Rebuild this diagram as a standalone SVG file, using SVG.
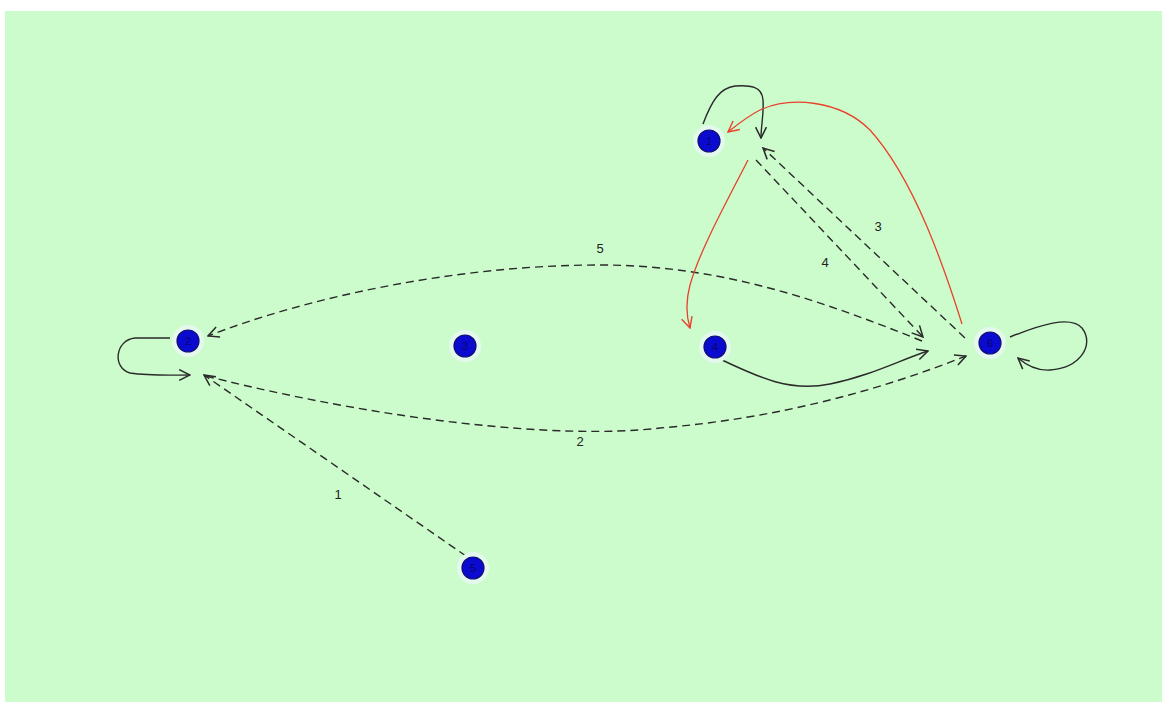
<svg xmlns="http://www.w3.org/2000/svg" width="1167" height="702" viewBox="0 0 1167 702">
  <style>
    .edge { fill: none; stroke: #2a2a2a; stroke-width: 1.4; }
    .dash { stroke-dasharray: 8 5; }
    .red { fill: none; stroke: #e8412c; stroke-width: 1.3; }
    .node circle.halo { fill: #e4f8ee; }
    .node circle.dot { fill: #0a0ad0; stroke: #101070; stroke-width: 1.2; }
    .node text { font-family: "Liberation Sans", Arial, sans-serif; font-size: 11px; fill: #08086a; text-anchor: middle; }
    .lbl { font-family: "Liberation Sans", Arial, sans-serif; font-size: 13px; fill: #222; text-anchor: middle; }
  </style>
  <defs>
    <marker id="arr" viewBox="0 0 12 12" refX="11" refY="6" markerWidth="13" markerHeight="13" markerUnits="userSpaceOnUse" orient="auto">
      <path d="M1,1 L11,6 L1,11" fill="none" stroke="#2a2a2a" stroke-width="1.4"/>
    </marker>
    <marker id="arrRed" viewBox="0 0 12 12" refX="11" refY="6" markerWidth="13" markerHeight="13" markerUnits="userSpaceOnUse" orient="auto">
      <path d="M1,1 L11,6 L1,11" fill="none" stroke="#e8412c" stroke-width="1.3"/>
    </marker>
  </defs>

  <rect x="0" y="0" width="1167" height="702" fill="#ffffff"/>
  <rect x="5" y="11" width="1157" height="691" fill="#ccfccc"/>

  <g id="connectors">
    <!-- 1 -->
    <path class="edge dash" d="M466,556 L204,375" marker-end="url(#arr)"/>
    <!-- 2 -->
    <path class="edge dash" d="M206,376 C380,420 560,440 660,428 C780,418 880,390 966,356" marker-end="url(#arr)"/>
    <!-- 3 -->
    <path class="edge dash" d="M965,338 L763,148" marker-end="url(#arr)"/>
    <!-- 4 -->
    <path class="edge dash" d="M756,160 L923,337" marker-end="url(#arr)"/>
    <!-- 5 -->
    <path class="edge dash" d="M922,341 C820,300 720,265 600,265 C450,265 300,300 208,336" marker-end="url(#arr)"/>
    <!-- solid curve to right node -->
    <path class="edge" d="M722,360 C760,378 790,392 830,384 C870,376 900,360 928,351" marker-end="url(#arr)"/>
    <!-- loops -->
    <path class="edge" d="M1010,337 C1040,325 1070,315 1082,328 C1095,345 1080,368 1050,370 C1035,371 1025,364 1018,358" marker-end="url(#arr)"/>
    <path class="edge" d="M170,338 L135,338 C115,340 112,368 130,373 C150,376 170,375 190,375" marker-end="url(#arr)"/>
    <path class="edge" d="M703,124 C712,100 720,88 735,86 C750,85 762,86 763,100 C764,115 761,125 761,138" marker-end="url(#arr)"/>
    <!-- red -->
    <path class="red" d="M962,324 C945,270 915,180 870,130 C840,100 790,96 760,110 C748,116 738,124 728,132" marker-end="url(#arrRed)"/>
    <path class="red" d="M748,160 C725,205 700,250 690,285 C686,300 686,315 690,328" marker-end="url(#arrRed)"/>
  </g>

  <g id="edge-labels">
    <text class="lbl" x="338" y="499">1</text>
    <text class="lbl" x="580" y="446">2</text>
    <text class="lbl" x="878" y="231">3</text>
    <text class="lbl" x="825" y="267">4</text>
    <text class="lbl" x="600" y="253">5</text>
  </g>

  <g id="node-1" class="node">
    <circle class="halo" cx="709" cy="141" r="16"/>
    <circle class="dot" cx="709" cy="141" r="11"/>
    <text x="709" y="145">1</text>
  </g>
  <g id="node-2" class="node">
    <circle class="halo" cx="188" cy="341" r="16"/>
    <circle class="dot" cx="188" cy="341" r="11"/>
    <text x="188" y="345">2</text>
  </g>
  <g id="node-3" class="node">
    <circle class="halo" cx="465" cy="346" r="16"/>
    <circle class="dot" cx="465" cy="346" r="11"/>
    <text x="465" y="350">3</text>
  </g>
  <g id="node-4" class="node">
    <circle class="halo" cx="715" cy="347" r="16"/>
    <circle class="dot" cx="715" cy="347" r="11"/>
    <text x="715" y="351">4</text>
  </g>
  <g id="node-5" class="node">
    <circle class="halo" cx="473" cy="568" r="16"/>
    <circle class="dot" cx="473" cy="568" r="11"/>
    <text x="473" y="572">5</text>
  </g>
  <g id="node-6" class="node">
    <circle class="halo" cx="990" cy="343" r="16"/>
    <circle class="dot" cx="990" cy="343" r="11"/>
    <text x="990" y="347">6</text>
  </g>
</svg>
